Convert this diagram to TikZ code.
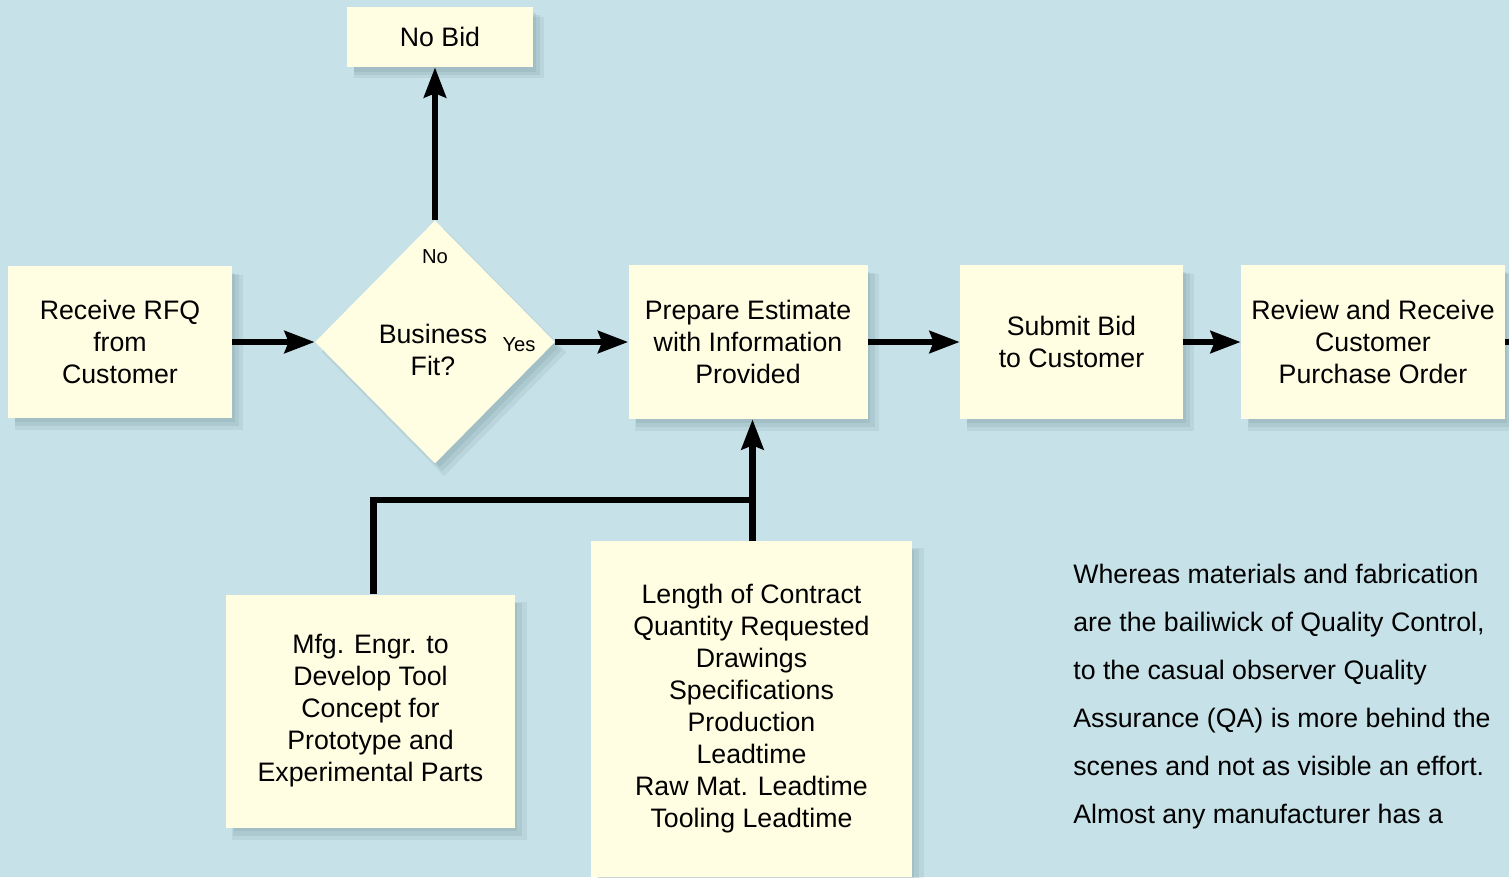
\documentclass[tikz,border=0pt]{standalone}
\usepackage{fontspec}
\setmainfont{Liberation Sans}
\usepackage{tikz}
\usetikzlibrary{shapes.geometric,arrows.meta,positioning,shadows,calc}
\definecolor{skyback}{RGB}{198,226,232}
\definecolor{cream}{RGB}{255,254,226}
\definecolor{shade}{RGB}{100,130,140}

\begin{document}
\begin{tikzpicture}[node distance=1cm]
\tikzstyle{soft} = [drop shadow={shadow xshift=0.18cm, shadow yshift=-0.2cm, shadow scale=1.02, fill=shade, opacity=0.12}, drop shadow={shadow xshift=0.14cm, shadow yshift=-0.16cm, fill=shade, opacity=0.14}, drop shadow={shadow xshift=0.1cm, shadow yshift=-0.12cm, shadow scale=0.98, fill=shade, opacity=0.14}]
\tikzstyle{box} = [rectangle, text centered, align=center, fill=cream, inner sep=0pt, font=\fontsize{15.2}{18.2}\selectfont, soft]
\tikzstyle{decision} = [diamond, fill=cream, inner sep=0pt, minimum width=4.8cm, minimum height=4.86cm, soft]
\tikzstyle{label} = [align=center, inner sep=0pt, font=\fontsize{15.2}{18.2}\selectfont]
\tikzstyle{small} = [font=\fontsize{11.5}{13}\selectfont, inner sep=0pt]
\tikzstyle{arrow} = [line width=3.5pt, -{Stealth[length=0.6cm, width=0.44cm, inset=0.08cm]}]
\tikzstyle{link} = [line width=3.5pt]

\path[use as bounding box, fill=skyback] (0,0) rectangle (30.18,-17.54);

% top row
\node (rfq) [box, minimum width=4.48cm, minimum height=3.04cm] at (2.40,-6.84) {Receive RFQ\\from\\Customer};
\node (fit) [decision, right of=rfq, xshift=5.3cm] {};
\node (fitq) [label, below of=fit, yshift=0.84cm, xshift=-0.04cm] {Business\\Fit?};
\node (no) [small, above of=fit, yshift=0.7cm] {No};
\node (yes) [small, right of=fit, xshift=0.68cm, yshift=-0.06cm] {Yes};
\node (nobid) [box, above of=fit, yshift=5.1cm, xshift=0.1cm, minimum width=3.72cm, minimum height=1.2cm] {No Bid};
\node (prep) [box, right of=fit, xshift=5.26cm, minimum width=4.78cm, minimum height=3.08cm] {Prepare Estimate\\with Information\\Provided};
\node (submit) [box, right of=prep, xshift=5.47cm, minimum width=4.46cm, minimum height=3.08cm] {Submit Bid\\to Customer};
\node (review) [box, right of=submit, xshift=5.03cm, minimum width=5.28cm, minimum height=3.08cm] {Review and Receive\\Customer\\Purchase Order};

% inputs to the estimate
\node (length) [box, below of=prep, yshift=-6.34cm, xshift=0.07cm, minimum width=6.42cm, minimum height=6.72cm] {Length of Contract\\Quantity Requested\\Drawings\\Specifications\\Production\\Leadtime\\Raw Mat. Leadtime\\Tooling Leadtime};
\node (mfg) [box, left of=length, xshift=-6.62cm, yshift=-0.04cm, minimum width=5.78cm, minimum height=4.66cm] {Mfg. Engr. to\\Develop Tool\\Concept for\\Prototype and\\Experimental Parts};

\node (note) [anchor=north west, inner sep=0pt, align=left, font=\fontsize{15.2}{27.3}\selectfont] at (21.46,-11.28) {Whereas materials and fabrication\\are the bailiwick of Quality Control,\\to the casual observer Quality\\Assurance (QA) is more behind the\\scenes and not as visible an effort.\\Almost any manufacturer has a};

\coordinate (join) at ($(length.north)+(0.02,0.82)$);
\coordinate (offpage) at ($(review.east)+(0.6,0)$);

\draw [arrow] (rfq) -- (fit);
\draw [arrow] (fit.north) -- (fit.north |- nobid.south);
\draw [arrow] (fit) -- (prep);
\draw [arrow] (prep) -- (submit);
\draw [arrow] (submit) -- (review);
\draw [link] (review) -- (offpage);
\draw [arrow] (length.north -| join) -- (join |- prep.south);
\draw [link] ($(mfg.north)+(0.06,0)$) |- (join);
\end{tikzpicture}
\end{document}
